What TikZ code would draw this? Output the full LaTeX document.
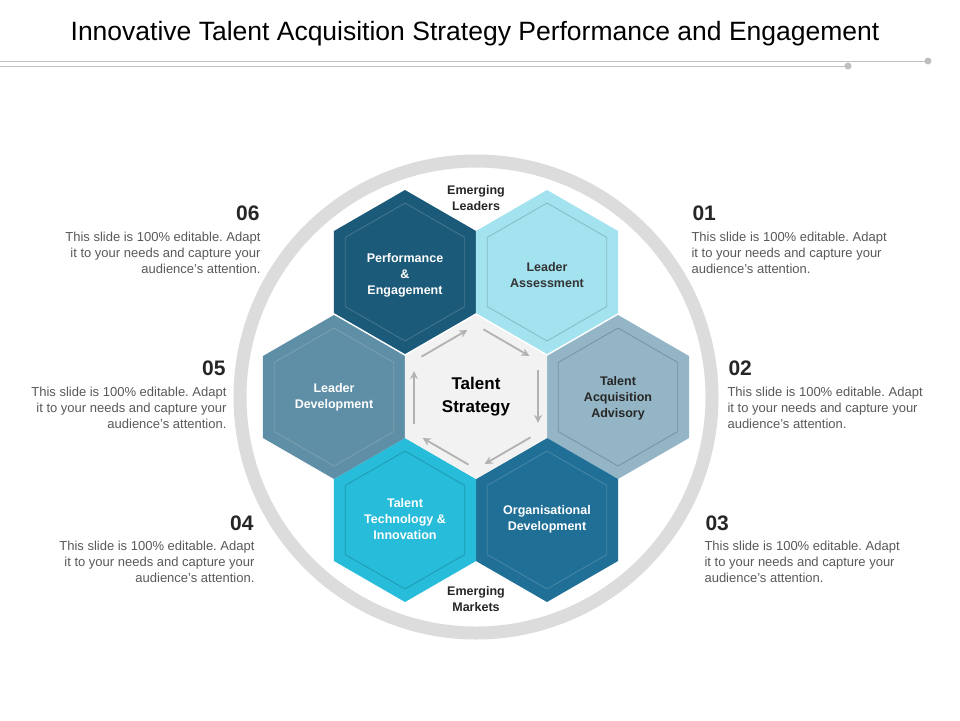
\documentclass[tikz,border=0pt]{standalone}
\usepackage{fontspec}
\setmainfont{Liberation Sans}
\usetikzlibrary{calc,arrows.meta}
\definecolor{cA}{HTML}{1B5A78}\definecolor{cAi}{HTML}{175577}
\definecolor{cB}{HTML}{A3E2EF}\definecolor{cBi}{HTML}{9BDDEA}
\definecolor{cC}{HTML}{93B5C5}\definecolor{cCi}{HTML}{8AADBE}
\definecolor{cD}{HTML}{1F6F96}\definecolor{cDi}{HTML}{1C6A90}
\definecolor{cE}{HTML}{27BCD9}\definecolor{cEi}{HTML}{22B5D2}
\definecolor{cF}{HTML}{5F8FA6}\definecolor{cFi}{HTML}{5A899F}
\definecolor{txt}{HTML}{595959}
\definecolor{ring}{HTML}{DCDCDC}
\tikzset{
  hexlabel/.style={text=white,font=\bfseries\fontsize{12.5}{16}\selectfont,align=center},
  body/.style={text=txt,font=\fontsize{13}{16}\selectfont},
  num/.style={text=black!85,font=\bfseries\fontsize{21}{22}\selectfont},
  carrow/.style={draw=black!30,line width=1.8pt,-{Stealth[length=8pt,width=8pt]}},
}
\newcommand{\hexi}[4]{%
  \fill[#3,shift={(#1,#2)}] (30:82pt)--(90:82pt)--(150:82pt)--(210:82pt)--(270:82pt)--(330:82pt)--cycle;
  \draw[#4,line width=0.8pt,shift={(#1,#2)}] (30:69pt)--(90:69pt)--(150:69pt)--(210:69pt)--(270:69pt)--(330:69pt)--cycle;}
\begin{document}
\frenchspacing
\begin{tikzpicture}[x=1pt,y=-1pt]
\useasboundingbox (0,0) rectangle (960,720);
\fill[white] (0,0) rectangle (960,720);
\node[font=\fontsize{26.5}{30}\selectfont] (title) at (475,34) {Innovative Talent Acquisition Strategy Performance and Engagement};
\draw[black!25,line width=0.8pt] (0,61) -- (928,61); \fill[black!25] (928,61) circle (3.5);
\draw[black!25,line width=0.8pt] (0,66) -- (848,66); \fill[black!25] (848,66) circle (3.5);
\draw[ring,line width=13pt] (476,397) circle (236);
\hexi{405}{272}{cA}{cAi!80!white}
\hexi{547}{272}{cB}{cBi!85!black}
\hexi{618}{397}{cC}{cCi!85!black}
\hexi{547}{520}{cD}{cDi!80!white}
\hexi{405}{520}{cE}{cEi!85!black}
\hexi{334}{397}{cF}{cFi!80!white}
\fill[black!5,shift={(476,397)}] (30:82pt)--(90:82pt)--(150:82pt)--(210:82pt)--(270:82pt)--(330:82pt)--cycle;
\node[hexlabel] (h6) at (405,275) {Performance\\\&\\Engagement};
\node[hexlabel,text=black!80] (h1) at (547,275) {Leader\\Assessment};
\node[hexlabel,text=black!85] (h2) at (618,398) {Talent\\Acquisition\\Advisory};
\node[hexlabel] (h3) at (547,519) {Organisational\\Development};
\node[hexlabel] (h4) at (405,519) {Talent\\Technology \&\\Innovation};
\node[hexlabel] (h5) at (334,397) {Leader\\Development};
\node[font=\bfseries\fontsize{17}{23}\selectfont,align=center] (c) at (476,397) {Talent\\Strategy};
\node[font=\bfseries\fontsize{12.5}{16}\selectfont,align=center,text=black!85] (el) at (476,198) {Emerging\\Leaders};
\node[font=\bfseries\fontsize{12.5}{16}\selectfont,align=center,text=black!85] (em) at (476,599) {Emerging\\Markets};
\coordinate (vT) at (476,325); \coordinate (vUR) at (538,361); \coordinate (vLR) at (538,433);
\coordinate (vB) at (476,469); \coordinate (vLL) at (414,433); \coordinate (vUL) at (414,361);
\foreach \a/\b in {vT/vUR,vUR/vLR,vLR/vB,vB/vLL,vLL/vUL,vUL/vT}
  \draw[carrow] ($(\a)!0.12!(\b)$) -- ($(\a)!0.86!(\b)$);
\def\bt{This slide is 100\% editable. Adapt\\it to your needs and capture your\\audience's attention.}
\node[num,anchor=east] (n6) at (263,213) {06};
\node[body,align=right,anchor=east] (t6) at (264,253) {\bt};
\node[num,anchor=east] (n5) at (229,368) {05};
\node[body,align=right,anchor=east] (t5) at (230,408) {\bt};
\node[num,anchor=east] (n4) at (257,523) {04};
\node[body,align=right,anchor=east] (t4) at (258,562) {\bt};
\node[num,anchor=west] (n1) at (689,213) {01};
\node[body,align=left,anchor=west] (t1) at (688,253) {\bt};
\node[num,anchor=west] (n2) at (725,368) {02};
\node[body,align=left,anchor=west] (t2) at (724,408) {\bt};
\node[num,anchor=west] (n3) at (702,523) {03};
\node[body,align=left,anchor=west] (t3) at (701,562) {\bt};
\end{tikzpicture}
\end{document}
